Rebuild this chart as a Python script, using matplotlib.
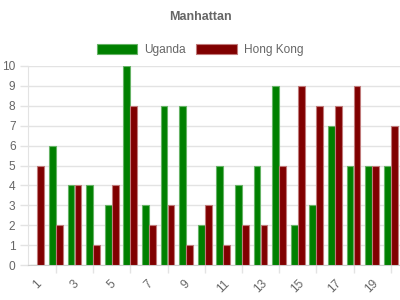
import matplotlib
matplotlib.use("Agg")
import matplotlib.pyplot as plt
import numpy as np
from matplotlib.patches import Patch

categories = [str(i) for i in range(1, 21)]
uganda = [0, 6, 4, 4, 3, 10, 3, 8, 8, 2, 5, 4, 5, 9, 2, 3, 7, 5, 5, 5]
hong_kong = [5, 2, 4, 1, 4, 8, 2, 3, 1, 3, 1, 2, 2, 5, 9, 8, 8, 9, 5, 7]
title = "Manhattan"
series_names = ["Uganda", "Hong Kong"]
fills = ["#008000", "#800000"]
edges = ["#66b366", "#c07a7a"]

plt.rcParams['font.family'] = ['Liberation Sans', 'DejaVu Sans']
fig = plt.figure(figsize=(4, 3), dpi=100)
ax = fig.add_axes([28/400, 1-265/300, 372/400, 199/300])

x = np.arange(len(categories))
bw = 0.36
off = 0.19
ax.bar(x - off, uganda, width=bw, color=fills[0], edgecolor=edges[0], linewidth=0.8, zorder=3)
ax.bar(x + off, hong_kong, width=bw, color=fills[1], edgecolor=edges[1], linewidth=0.8, zorder=3)

ax.set_xlim(-0.5, len(categories) - 0.5)
ax.set_ylim(0, 10)

grid_c = "#e3e3e3"
txt_c = "#666666"
ax.set_yticks(range(0, 11))
ax.yaxis.grid(True, color=grid_c, linewidth=1, zorder=0)
ax.tick_params(axis='y', length=6, color=grid_c, width=1, pad=3, labelsize=8.6, labelcolor=txt_c)

ax.set_xticks(x[::2])
ax.set_xticklabels(categories[::2], rotation=45, ha='center', va='top')
ax.set_xticks(x[1::2], minor=True)
ax.tick_params(axis='x', which='major', length=0, pad=9, labelsize=8.6, labelcolor=txt_c)
ax.tick_params(axis='x', which='minor', length=6, color=grid_c, width=1)

for s in ['top', 'right']:
    ax.spines[s].set_visible(False)
ax.spines['left'].set_color(grid_c)
ax.spines['bottom'].set_color("#cccccc")

fig.text(0.5, 1-17/300, title, ha='center', va='center', fontsize=9, fontweight='bold', color=txt_c)

handles = [Patch(facecolor=fills[i], edgecolor=edges[i], linewidth=0.8) for i in range(2)]
fig.legend(handles, series_names, loc='center', bbox_to_anchor=(0.5, 1-50/300), ncol=2,
           frameon=False, fontsize=8.6, labelcolor=txt_c, handlelength=3.4, handleheight=1.0,
           handletextpad=0.55, columnspacing=0.9)

fig.savefig("out.png", dpi=100)
